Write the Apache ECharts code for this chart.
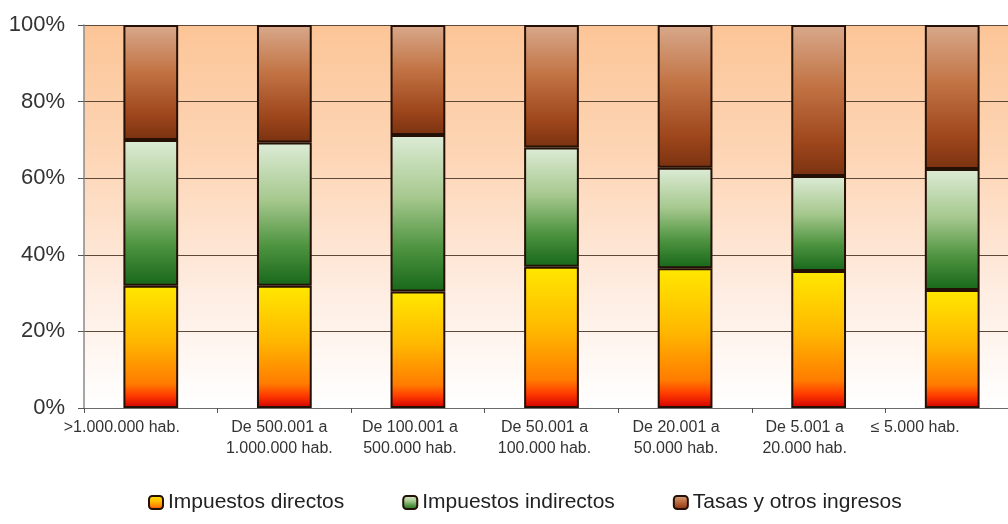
<!DOCTYPE html>
<html>
<head>
<meta charset="utf-8">
<script src="https://cdn.jsdelivr.net/npm/echarts@6/dist/echarts.min.js"></script>
<style>
html,body{margin:0;padding:0;background:#fff;}
#chart{width:1008px;height:524px;}
</style>
</head>
<body>
<div id="chart"></div>
<script>
const categories = [">1.000.000 hab.", "De 500.001 a\n1.000.000 hab.", "De 100.001 a\n500.000 hab.", "De 50.001 a\n100.000 hab.", "De 20.001 a\n50.000 hab.", "De 5.001 a\n20.000 hab.", "≤ 5.000 hab."];
const impuestosDirectos = [31.9, 31.9, 30.4, 36.9, 36.5, 35.8, 30.8];
const impuestosIndirectos = [38.1, 37.4, 40.9, 31.1, 26.2, 24.8, 31.6];
const tasasOtros = [30.0, 30.7, 28.7, 32.0, 37.3, 39.4, 37.6];
const yTicks = [0, 20, 40, 60, 80, 100];
const seriesNames = ["Impuestos directos", "Impuestos indirectos", "Tasas y otros ingresos"];

const lg = (stops) => new echarts.graphic.LinearGradient(0, 0, 0, 1, stops.map(s => ({offset: s[0], color: s[1]})));
const gradDirectos = lg([[0, '#FFE800'], [0.45, '#FFB800'], [0.8, '#FF7C00'], [0.9, '#FF3A00'], [1, '#D00000']]);
const gradIndirectos = lg([[0, '#DDECD6'], [0.4, '#A6C88E'], [0.72, '#4E9440'], [1, '#17671A']]);
const gradTasas = lg([[0, '#D8A98C'], [0.4, '#C27445'], [0.78, '#9E461C'], [1, '#7A3210']]);
const labelPad = [[0, 58, 0, 0], [0, 10, 0, 0], [0, 16, 0, 0], [0, 14, 0, 0], [0, 18, 0, 0], [0, 28, 0, 0], [0, 74, 0, 0]];

const chart = echarts.init(document.getElementById('chart'), null, {renderer: 'canvas'});
const border = {borderColor: '#241005', borderWidth: 2};
chart.setOption({
  animation: false,
  backgroundColor: '#ffffff',
  grid: {
    left: 84, width: 935, top: 25, bottom: 116,
    outerBoundsMode: 'none', containLabel: false,
    show: true, borderWidth: 0,
    backgroundColor: lg([[0, '#FCC597'], [0.35, '#FDD6B6'], [0.7, '#FEEDE2'], [1, '#FFFFFF']])
  },
  legend: {
    left: 143, top: 487,
    itemWidth: 14, itemHeight: 13, itemGap: 58,
    textStyle: {fontFamily: 'Liberation Sans', fontSize: 21, color: '#222'},
    data: seriesNames
  },
  xAxis: {
    type: 'category',
    data: categories.map((c, i) => ({value: c, textStyle: {padding: labelPad[i]}})),
    axisLine: {lineStyle: {color: '#6b6b6b', width: 1}},
    axisTick: {show: true, length: 5, lineStyle: {color: '#555'}},
    axisLabel: {interval: 0, margin: 9, fontFamily: 'Liberation Sans', fontSize: 16, lineHeight: 21, color: '#333'}
  },
  yAxis: {
    type: 'value', min: 0, max: 100, interval: 20,
    axisLine: {show: true, lineStyle: {color: '#8a8a8a', width: 1.5}},
    axisTick: {show: true, length: 6, lineStyle: {color: '#555'}},
    axisLabel: {margin: 19, fontFamily: 'Liberation Sans', fontSize: 22, color: '#333', formatter: v => yTicks.includes(v) ? v + '%' : ''},
    splitLine: {show: true, lineStyle: {color: '#5e4838', width: 1.2}}
  },
  series: [
    {name: seriesNames[0], type: 'bar', stack: 't', barWidth: '41%', data: impuestosDirectos, itemStyle: Object.assign({color: gradDirectos}, border)},
    {name: seriesNames[1], type: 'bar', stack: 't', barWidth: '41%', data: impuestosIndirectos, itemStyle: Object.assign({color: gradIndirectos}, border)},
    {name: seriesNames[2], type: 'bar', stack: 't', barWidth: '41%', data: tasasOtros, itemStyle: Object.assign({color: gradTasas}, border)}
  ]
});
</script>
</body>
</html>
